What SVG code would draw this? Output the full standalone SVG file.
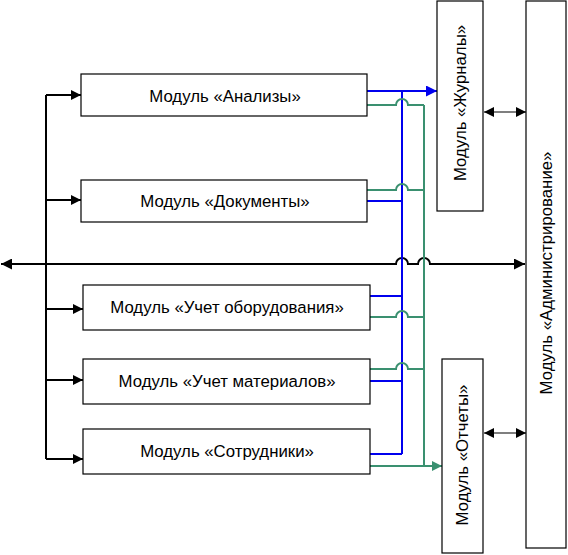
<svg xmlns="http://www.w3.org/2000/svg" width="568" height="555" viewBox="0 0 568 555">
<style>
.box{fill:#fff;stroke:#000;stroke-width:1.2}
.t{font-family:"Liberation Sans",Arial,sans-serif;font-size:16.8px;fill:#000;text-anchor:middle;dominant-baseline:central}
.k{fill:none;stroke:#000;stroke-width:2}
.b{fill:none;stroke:#0000ee;stroke-width:2}
.g{fill:none;stroke:#3a9070;stroke-width:2}
.d{fill:none;stroke:#000;stroke-width:1.2}
</style>
<defs>
<marker id="ak" viewBox="0 0 10 10" refX="10" refY="5" markerWidth="10" markerHeight="10" markerUnits="userSpaceOnUse" orient="auto-start-reverse"><path d="M0,0 L10,5 L0,10 Z" fill="#000"/></marker>
<marker id="ak2" viewBox="0 0 10 10" refX="10" refY="5" markerWidth="11" markerHeight="11" markerUnits="userSpaceOnUse" orient="auto-start-reverse"><path d="M0,0 L10,5 L0,10 Z" fill="#000"/></marker>
<marker id="ab" viewBox="0 0 10 10" refX="10" refY="5" markerWidth="11" markerHeight="11" markerUnits="userSpaceOnUse" orient="auto"><path d="M0,0 L10,5 L0,10 Z" fill="#0000ee"/></marker>
<marker id="ag" viewBox="0 0 10 10" refX="10" refY="5" markerWidth="10" markerHeight="10" markerUnits="userSpaceOnUse" orient="auto"><path d="M0,0 L10,5 L0,10 Z" fill="#3a9070"/></marker>
</defs>
<g id="connectors">
<path class="k" d="M46,95 V459"/>
<path class="k" d="M46,95 H81" marker-end="url(#ak)"/>
<path class="k" d="M46,200 H81" marker-end="url(#ak)"/>
<path class="k" d="M46,309 H83" marker-end="url(#ak)"/>
<path class="k" d="M46,380 H83" marker-end="url(#ak)"/>
<path class="k" d="M46,459 H83" marker-end="url(#ak)"/>
<path class="k" d="M1,264 H396 A6,6 0 0 1 408,264 H418 A6,6 0 0 1 430,264 H525" marker-start="url(#ak2)" marker-end="url(#ak2)"/>
<path class="b" d="M402,91 V454"/>
<path class="b" d="M367,91 H437" marker-end="url(#ab)"/>
<path class="b" d="M367,201 H402"/>
<path class="b" d="M370,296 H402"/>
<path class="b" d="M370,381 H402"/>
<path class="b" d="M370,454 H402"/>
<path class="g" d="M424,105 V466"/>
<path class="g" d="M367,105 H396 A6,6 0 0 1 408,105 H424"/>
<path class="g" d="M367,190 H396 A6,6 0 0 1 408,190 H424"/>
<path class="g" d="M370,317 H396 A6,6 0 0 1 408,317 H424"/>
<path class="g" d="M370,369 H396 A6,6 0 0 1 408,369 H424"/>
<path class="g" d="M370,466 H442" marker-end="url(#ag)"/>
<path class="d" d="M484,112 H526" marker-start="url(#ak)" marker-end="url(#ak)"/>
<path class="d" d="M484,433 H526" marker-start="url(#ak)" marker-end="url(#ak)"/>
</g>
<g id="n-analyses"><rect class="box" x="81" y="74" width="286" height="42"/><text class="t" x="225" y="96">Модуль «Анализы»</text></g>
<g id="n-docs"><rect class="box" x="81" y="180" width="286" height="42"/><text class="t" x="225" y="201">Модуль «Документы»</text></g>
<g id="n-equip"><rect class="box" x="83" y="285" width="287" height="45"/><text class="t" x="227" y="307">Модуль «Учет оборудования»</text></g>
<g id="n-mat"><rect class="box" x="83" y="359" width="287" height="45"/><text class="t" x="227" y="381">Модуль «Учет материалов»</text></g>
<g id="n-staff"><rect class="box" x="83" y="429" width="287" height="45"/><text class="t" x="227" y="451">Модуль «Сотрудники»</text></g>
<g id="n-journals"><rect class="box" x="437" y="1" width="46" height="210"/><text class="t" transform="translate(460,103) rotate(-90)">Модуль «Журналы»</text></g>
<g id="n-reports"><rect class="box" x="442" y="359" width="41" height="194"/><text class="t" transform="translate(462,455) rotate(-90)">Модуль «Отчеты»</text></g>
<g id="n-admin"><rect class="box" x="526" y="1" width="40" height="547"/><text class="t" transform="translate(546,273) rotate(-90)">Модуль «Администрирование»</text></g>
</svg>
